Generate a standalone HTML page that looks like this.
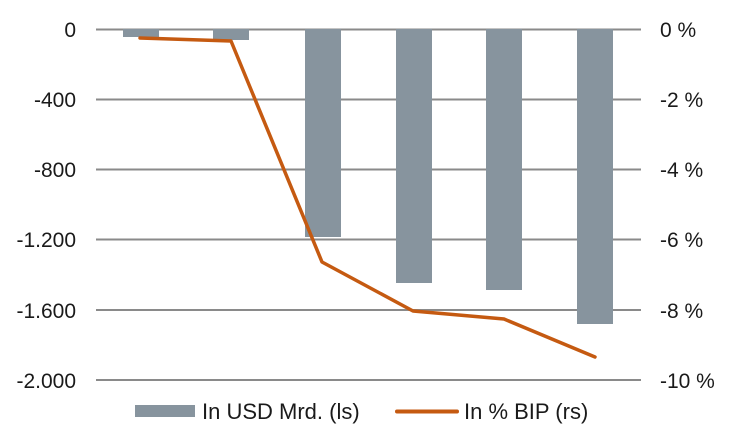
<!DOCTYPE html>
<html><head><meta charset="utf-8"><style>
html,body{margin:0;padding:0;background:#fff;}
svg{display:block;font-family:"Liberation Sans",Arial,sans-serif;}
</style></head><body>
<svg width="730" height="434" viewBox="0 0 730 434">
<g stroke="#8a8a8a" stroke-width="2">
<line x1="96" x2="641" y1="29.5" y2="29.5"/>
<line x1="96" x2="641" y1="99.5" y2="99.5"/>
<line x1="96" x2="641" y1="169.5" y2="169.5"/>
<line x1="96" x2="641" y1="239.5" y2="239.5"/>
<line x1="96" x2="641" y1="310" y2="310"/>
<line x1="96" x2="641" y1="380" y2="380"/>
</g>
<g fill="#87949e">
<rect x="123" y="29" width="36" height="8"/>
<rect x="213" y="29" width="36" height="11"/>
<rect x="305" y="29" width="36" height="208"/>
<rect x="396" y="29" width="36" height="254"/>
<rect x="486" y="29" width="36" height="261"/>
<rect x="577" y="29" width="36" height="295"/>
</g>
<polyline points="140,38 231,41 322,262 413,311 504,319 595,357" fill="none" stroke="#c55a11" stroke-width="3.5" stroke-linejoin="round" stroke-linecap="round"/>
<g font-size="21" fill="#1a1a1a" text-anchor="end">
<text x="76" y="37">0</text>
<text x="76" y="107">-400</text>
<text x="76" y="177">-800</text>
<text x="76" y="247">-1.200</text>
<text x="76" y="318">-1.600</text>
<text x="76" y="388">-2.000</text>
</g>
<g font-size="21" fill="#1a1a1a">
<text x="660" y="37">0 %</text>
<text x="660" y="107">-2 %</text>
<text x="660" y="177">-4 %</text>
<text x="660" y="247">-6 %</text>
<text x="660" y="318">-8 %</text>
<text x="660" y="388">-10 %</text>
</g>
<rect x="135" y="405" width="60" height="12" fill="#87949e"/>
<text x="202" y="419" font-size="22" fill="#1a1a1a">In USD Mrd. (ls)</text>
<line x1="397" x2="457" y1="411.5" y2="411.5" stroke="#c55a11" stroke-width="4" stroke-linecap="round"/>
<text x="464" y="419" font-size="22" fill="#1a1a1a">In % BIP (rs)</text>
</svg>
</body></html>
